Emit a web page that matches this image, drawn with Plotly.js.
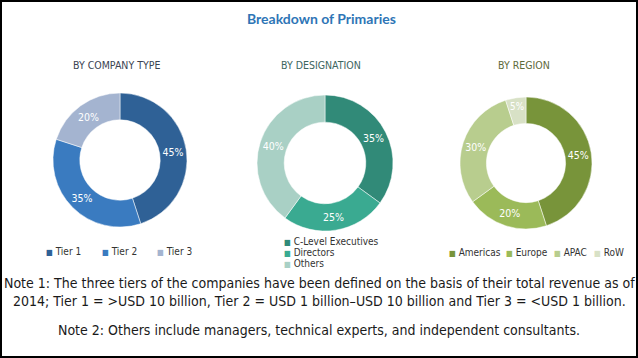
<!DOCTYPE html>
<html>
<head>
<meta charset="utf-8">
<script src="https://cdn.plot.ly/plotly-3.0.1.min.js"></script>
<style>
  html, body { margin: 0; padding: 0; background: #fff; }
  #chart { width: 638px; height: 358px; }
</style>
</head>
<body>
<div id="chart"></div>
<script>
// ---- data ----
const chartTitle = 'Breakdown of Primaries';
const subTitles = ['BY COMPANY TYPE', 'BY DESIGNATION', 'BY REGION'];

const companyLabels = ['Tier 1', 'Tier 2', 'Tier 3'];
const companyValues = [45, 35, 20];
const companyColors = ['#2f6196', '#3a7bc0', '#a4b4d0'];

const designationLabels = ['C-Level Executives', 'Directors', 'Others'];
const designationValues = [35, 25, 40];
const designationColors = ['#318a78', '#3aaa91', '#a9d0c5'];

const regionLabels = ['Americas', 'Europe', 'APAC', 'RoW'];
const regionValues = [45, 20, 30, 5];
const regionColors = ['#78943a', '#9bba59', '#b8cd8e', '#d8e1c6'];

const note1 = 'Note 1: The three tiers of the companies have been defined on the basis of their total revenue as of<br>2014; Tier 1 = >USD 10 billion, Tier 2 = USD 1 billion\u2013USD 10 billion and Tier 3 = <USD 1 billion.';
const note2 = 'Note 2: Others include managers, technical experts, and independent consultants.';

// ---- layout helpers ----
const W = 638, H = 358;
const px = x => x / W;
const py = y => 1 - y / H;
const narrow = 'DejaVu Sans Condensed, Liberation Sans Narrow, sans-serif';

function donut(labels, values, colors, cx, cy, r) {
  return {
    type: 'pie',
    labels: labels,
    values: values,
    marker: { colors: colors, line: { color: '#ffffff', width: 0.5 } },
    hole: 0.6,
    sort: false,
    direction: 'clockwise',
    rotation: 0,
    texttemplate: '%{value}%',
    textposition: 'inside',
    insidetextorientation: 'horizontal',
    textfont: { family: narrow, size: 10.5, color: '#ffffff' },
    showlegend: false,
    hoverinfo: 'label+percent',
    domain: { x: [px(cx - r), px(cx + r)], y: [py(cy + r), py(cy - r)] }
  };
}

const traces = [
  donut(companyLabels, companyValues, companyColors, 120, 160, 67),
  donut(designationLabels, designationValues, designationColors, 325, 163, 68),
  donut(regionLabels, regionValues, regionColors, 526, 163, 66)
];

const annotations = [];
annotations.push({
  xref: 'paper', yref: 'paper', x: px(321), y: py(18), xanchor: 'center', yanchor: 'middle',
  text: '<b>' + chartTitle + '</b>', showarrow: false,
  font: { family: 'Lato, Open Sans, sans-serif', size: 14, color: '#2e75b6' }
});
const subX = [116, 321, 524];
const subColors = ['#3b4452', '#3d6660', '#5e6a3a'];
subTitles.forEach((t, i) => annotations.push({
  xref: 'paper', yref: 'paper', x: px(subX[i]), y: py(65), xanchor: 'center', yanchor: 'middle',
  text: t, showarrow: false, font: { family: narrow, size: 10.5, color: subColors[i] }
}));

function legendItem(label, color, x, y) {
  annotations.push({
    xref: 'paper', yref: 'paper', x: px(x), y: py(y), xanchor: 'left', yanchor: 'middle',
    text: '<span style="color:' + color + ';font-size:8px">\u25A0</span> ' + label,
    showarrow: false, font: { family: narrow, size: 10, color: '#333333' }
  });
}
const companyLegendX = [44, 100, 155];
companyLabels.forEach((l, i) => legendItem(l, companyColors[i], companyLegendX[i], 251));
const designationLegendY = [241, 252, 263];
designationLabels.forEach((l, i) => legendItem(l, designationColors[i], 282, designationLegendY[i]));
const regionLegendX = [447, 504, 552, 592];
regionLabels.forEach((l, i) => legendItem(l, regionColors[i], regionLegendX[i], 253));

annotations.push({
  xref: 'paper', yref: 'paper', x: px(319), y: py(292), xanchor: 'center', yanchor: 'middle',
  text: note1, showarrow: false, align: 'center',
  font: { family: narrow, size: 14, color: '#1a1a1a' }
});
annotations.push({
  xref: 'paper', yref: 'paper', x: px(319), y: py(330), xanchor: 'center', yanchor: 'middle',
  text: note2, showarrow: false, align: 'center',
  font: { family: narrow, size: 14, color: '#1a1a1a' }
});

const layout = {
  width: W, height: H,
  margin: { l: 0, r: 0, t: 0, b: 0 },
  paper_bgcolor: '#ffffff',
  plot_bgcolor: '#ffffff',
  showlegend: false,
  annotations: annotations,
  shapes: [{
    type: 'rect', xref: 'paper', yref: 'paper',
    x0: px(1), x1: px(W - 1), y0: py(H - 1), y1: py(1),
    line: { color: '#000000', width: 2 }
  }]
};

Plotly.newPlot('chart', traces, layout, { displayModeBar: false, staticPlot: true });
</script>
</body>
</html>
